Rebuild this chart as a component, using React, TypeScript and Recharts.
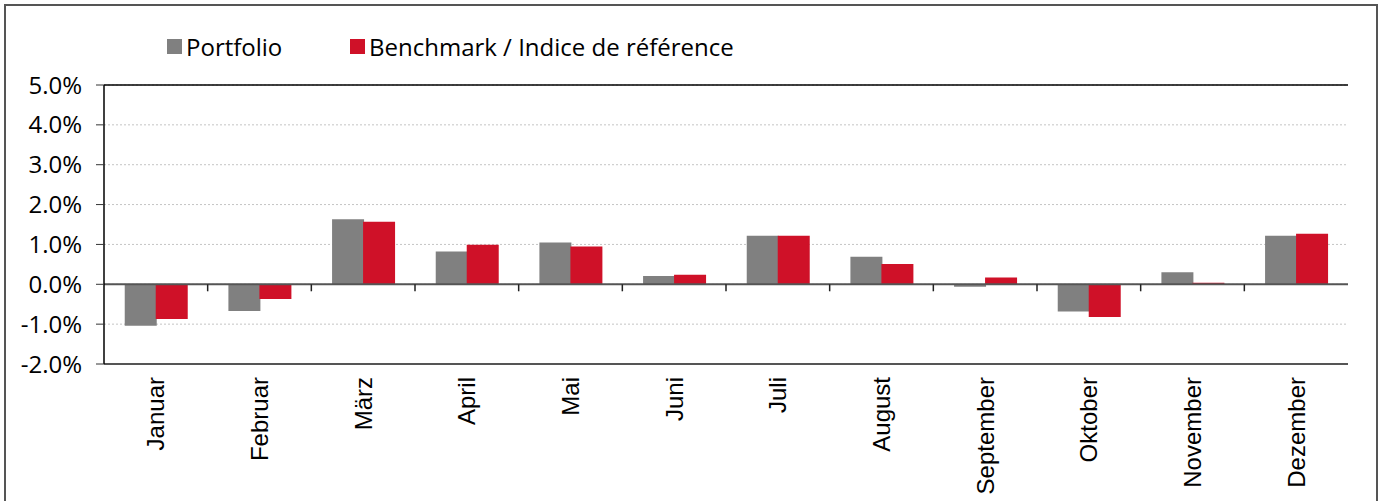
import React from 'react'
import { BarChart, Bar, XAxis, YAxis, CartesianGrid, ReferenceLine } from 'recharts'

const MONTHS = ['Januar', 'Februar', 'März', 'April', 'Mai', 'Juni', 'Juli', 'August', 'September', 'Oktober', 'November', 'Dezember']
const PORTFOLIO = [-1.04, -0.67, 1.63, 0.82, 1.05, 0.21, 1.22, 0.69, -0.06, -0.68, 0.3, 1.22]
const BENCHMARK = [-0.87, -0.37, 1.57, 0.99, 0.95, 0.24, 1.22, 0.51, 0.17, -0.82, 0.04, 1.27]
const Y_TICKS = [-2, -1, 0, 1, 2, 3, 4, 5]

const GREY = '#808080'
const RED = '#cf1128'

const W = 1381
const H = 501
const PLOT_LEFT = 104
const PLOT_RIGHT = 1348
const PLOT_TOP = 85
const PLOT_BOTTOM = 364

const data = MONTHS.map((month, i) => ({ month, portfolio: PORTFOLIO[i], benchmark: BENCHMARK[i] }))

// zero line position inside the fixed plot box, used for the little separator ticks
const zeroY = PLOT_TOP + ((PLOT_BOTTOM - PLOT_TOP) * Y_TICKS[Y_TICKS.length - 1]) / (Y_TICKS[Y_TICKS.length - 1] - Y_TICKS[0])
const band = (PLOT_RIGHT - PLOT_LEFT) / MONTHS.length

function MonthTick(props: any) {
  const { x, payload, index } = props
  return (
    <g>
      {index < MONTHS.length - 1 && (
        <line x1={x + band / 2} x2={x + band / 2} y1={zeroY} y2={zeroY + 7} stroke="#222" strokeWidth={1.5} />
      )}
      <text
        transform={`translate(${x}, ${PLOT_BOTTOM + 13}) rotate(-90)`}
        textAnchor="end"
        dy="0.36em"
        fill="#000"
        style={{ fontFamily: '"Liberation Sans", Arial, sans-serif', fontSize: 24 }}
      >
        {payload.value}
      </text>
    </g>
  )
}

const legendFont: React.CSSProperties = { fontFamily: '"Open Sans", "Noto Sans", sans-serif', fontSize: 24, color: '#000' }

export default function App() {
  return (
    <div style={{ position: 'absolute', left: 0, top: 0, width: W, height: H, background: '#fff', overflow: 'hidden' }}>
      <div style={{ position: 'absolute', left: 4, top: 4, width: 1370, height: 560, border: '2px solid #555' }} />

      {/* legend */}
      <div style={{ position: 'absolute', left: 167, top: 30, display: 'flex', alignItems: 'center', ...legendFont }}>
        <span style={{ width: 15, height: 15, background: GREY, display: 'inline-block', marginRight: 4 }} />
        <span>Portfolio</span>
      </div>
      <div style={{ position: 'absolute', left: 350, top: 30, display: 'flex', alignItems: 'center', ...legendFont }}>
        <span style={{ width: 15, height: 15, background: RED, display: 'inline-block', marginRight: 4 }} />
        <span>Benchmark / Indice de référence</span>
      </div>

      <BarChart
        width={W}
        height={H}
        data={data}
        margin={{ top: PLOT_TOP, right: W - PLOT_RIGHT, bottom: 0, left: 0 }}
        barCategoryGap="20%"
        barGap={-1}
        style={{ position: 'absolute', left: 0, top: 0 }}
      >
        <CartesianGrid vertical={false} stroke="#c4c4c4" strokeDasharray="2 2" />
        <XAxis
          dataKey="month"
          height={H - PLOT_BOTTOM}
          axisLine={false}
          tickLine={false}
          interval={0}
          tick={<MonthTick />}
        />
        <YAxis
          width={PLOT_LEFT}
          domain={[Y_TICKS[0], Y_TICKS[Y_TICKS.length - 1]]}
          ticks={Y_TICKS}
          tickFormatter={(v: number) => `${v.toFixed(1)}%`}
          axisLine={{ stroke: '#000', strokeWidth: 1.5 }}
          tickLine={{ stroke: '#333' }}
          tickSize={8}
          tickMargin={14}
          tick={{ fill: '#000', fontSize: 24, fontFamily: '"Open Sans", "Noto Sans", sans-serif' }}
        />
        <YAxis
          yAxisId="frame"
          orientation="right"
          width={0}
          domain={[0, 1]}
          tick={false}
          tickLine={false}
          axisLine={{ stroke: GREY, strokeWidth: 2 }}
        />
        <ReferenceLine y={5} stroke="#000" strokeWidth={1.5} />
        <ReferenceLine y={-2} stroke="#555" strokeWidth={2} />
        <Bar dataKey="portfolio" name="Portfolio" fill={GREY} isAnimationActive={false} />
        <Bar dataKey="benchmark" name="Benchmark / Indice de référence" fill={RED} isAnimationActive={false} />
        <ReferenceLine y={0} stroke="#555" strokeWidth={2} />
      </BarChart>
    </div>
  )
}
